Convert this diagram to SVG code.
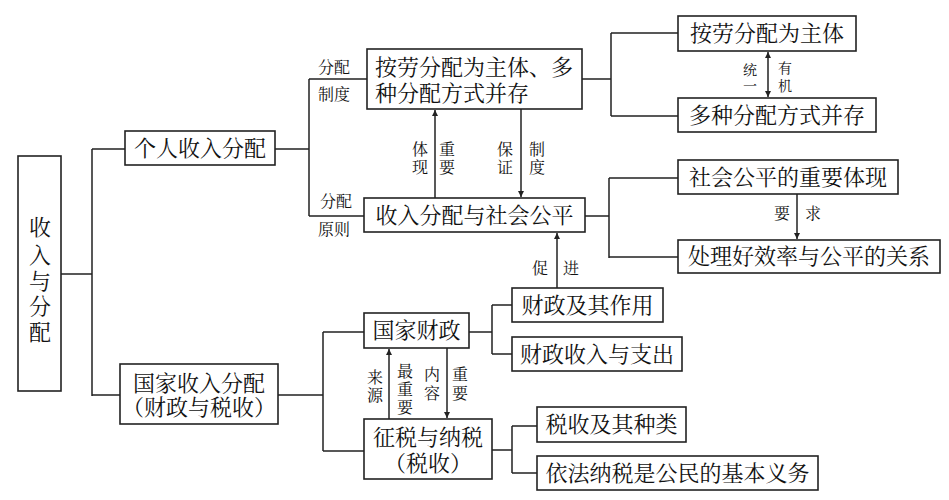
<svg xmlns="http://www.w3.org/2000/svg" width="949" height="500" viewBox="0 0 949 500">
<style>
.box{fill:#fff;stroke:#222;stroke-width:1.6}
.ln{fill:none;stroke:#222;stroke-width:1.5}
text{font-family:"Liberation Serif","Noto Serif CJK SC","Noto Sans CJK SC",serif;fill:#111;dominant-baseline:central}
.t{font-size:22px;text-anchor:middle}
.tl{font-size:22px}
.s{font-size:16px;text-anchor:middle}
.xs{font-size:14px;text-anchor:middle}
</style>
<defs>
<marker id="ah" viewBox="0 0 10 10" refX="10" refY="5" markerWidth="6" markerHeight="8" markerUnits="userSpaceOnUse" orient="auto-start-reverse">
<path d="M0,0 L10,5 L0,10 z" fill="#222"/>
</marker>
</defs>
<g id="connectors">
<path class="ln" d="M61,274 H92 M92,149 V396 M92,149 H125 M92,395 H120"/>
<path class="ln" d="M275,149 H309 M309,79 V216 M309,79 H367 M309,216 H364"/>
<path class="ln" d="M582,79 H611 M611,33 V116 M611,33 H678 M611,116 H678"/>
<path class="ln" d="M585,216 H609 M609,178 V258 M609,178 H678 M609,257 H678"/>
<path class="ln" d="M278,395 H323 M323,332 V451 M323,332 H364 M323,451 H364"/>
<path class="ln" d="M469,332 H492 M492,305 V354 M492,305 H512 M492,354 H512"/>
<path class="ln" d="M492,450 H512 M512,426 V473 M512,426 H537 M512,473 H537"/>
<path class="ln" d="M435,198 V110" marker-end="url(#ah)"/>
<path class="ln" d="M521,109 V197" marker-end="url(#ah)"/>
<path class="ln" d="M768,52 V97" marker-start="url(#ah)" marker-end="url(#ah)"/>
<path class="ln" d="M797,194 V239" marker-end="url(#ah)"/>
<path class="ln" d="M557,288 V233" marker-end="url(#ah)"/>
<path class="ln" d="M389,419 V349" marker-end="url(#ah)"/>
<path class="ln" d="M447,348 V418" marker-end="url(#ah)"/>
</g>
<g id="edge-labels">
<text class="s" x="334" y="67">分配</text>
<text class="s" x="334" y="94">制度</text>
<text class="s" x="336" y="201">分配</text>
<text class="s" x="334" y="229">原则</text>
<text class="s" x="420" y="149">体</text>
<text class="s" x="420" y="167">现</text>
<text class="s" x="447" y="149">重</text>
<text class="s" x="447" y="167">要</text>
<text class="s" x="505" y="149">保</text>
<text class="s" x="505" y="167">证</text>
<text class="s" x="537" y="149">制</text>
<text class="s" x="537" y="167">度</text>
<text class="xs" x="750" y="70">统</text>
<text class="xs" x="750" y="86">一</text>
<text class="xs" x="785" y="68">有</text>
<text class="xs" x="785" y="86">机</text>
<text class="s" x="782" y="213">要</text>
<text class="s" x="813" y="213">求</text>
<text class="s" x="540" y="268">促</text>
<text class="s" x="571" y="268">进</text>
<text class="s" x="375" y="377">来</text>
<text class="s" x="375" y="395">源</text>
<text class="s" x="405" y="371">最</text>
<text class="s" x="405" y="389">重</text>
<text class="s" x="405" y="407">要</text>
<text class="s" x="432" y="374">内</text>
<text class="s" x="432" y="393">容</text>
<text class="s" x="460" y="374">重</text>
<text class="s" x="460" y="393">要</text>
</g>
<g id="root">
<rect class="box" x="18" y="156" width="43" height="235"/>
<text class="t" x="40" y="227">收</text>
<text class="t" x="40" y="255">入</text>
<text class="t" x="40" y="281">与</text>
<text class="t" x="40" y="306">分</text>
<text class="t" x="40" y="332">配</text>
</g>
<g id="personal">
<rect class="box" x="125" y="131" width="150" height="34"/>
<text class="t" x="200" y="148">个人收入分配</text>
</g>
<g id="system">
<rect class="box" x="367" y="49" width="215" height="60"/>
<text class="tl" x="375" y="67">按劳分配为主体、多</text>
<text class="tl" x="375" y="93">种分配方式并存</text>
</g>
<g id="fairness">
<rect class="box" x="364" y="198" width="221" height="34"/>
<text class="t" x="474.5" y="215">收入分配与社会公平</text>
</g>
<g id="labor">
<rect class="box" x="678" y="16" width="178" height="35"/>
<text class="t" x="767" y="33.5">按劳分配为主体</text>
</g>
<g id="various">
<rect class="box" x="678" y="98" width="198" height="34"/>
<text class="t" x="777" y="115">多种分配方式并存</text>
</g>
<g id="embody">
<rect class="box" x="678" y="160" width="220" height="34"/>
<text class="t" x="788" y="177">社会公平的重要体现</text>
</g>
<g id="efficiency">
<rect class="box" x="678" y="240" width="262" height="33"/>
<text class="t" x="809" y="256.5">处理好效率与公平的关系</text>
</g>
<g id="national">
<rect class="box" x="120" y="364" width="158" height="60"/>
<text class="t" x="199" y="383">国家收入分配</text>
<text class="t" x="199" y="407">（财政与税收）</text>
</g>
<g id="finance">
<rect class="box" x="364" y="313" width="105" height="35"/>
<text class="t" x="416.5" y="330.5">国家财政</text>
</g>
<g id="tax">
<rect class="box" x="364" y="419" width="128" height="60"/>
<text class="t" x="428" y="437">征税与纳税</text>
<text class="t" x="428" y="463">（税收）</text>
</g>
<g id="finance-role">
<rect class="box" x="512" y="288" width="151" height="34"/>
<text class="t" x="587.5" y="305">财政及其作用</text>
</g>
<g id="finance-income">
<rect class="box" x="512" y="337" width="170" height="34"/>
<text class="t" x="597" y="354">财政收入与支出</text>
</g>
<g id="tax-kinds">
<rect class="box" x="537" y="407" width="149" height="35"/>
<text class="t" x="611.5" y="424.5">税收及其种类</text>
</g>
<g id="tax-duty">
<rect class="box" x="537" y="456" width="281" height="34"/>
<text class="t" x="677.5" y="473">依法纳税是公民的基本义务</text>
</g>
</svg>
